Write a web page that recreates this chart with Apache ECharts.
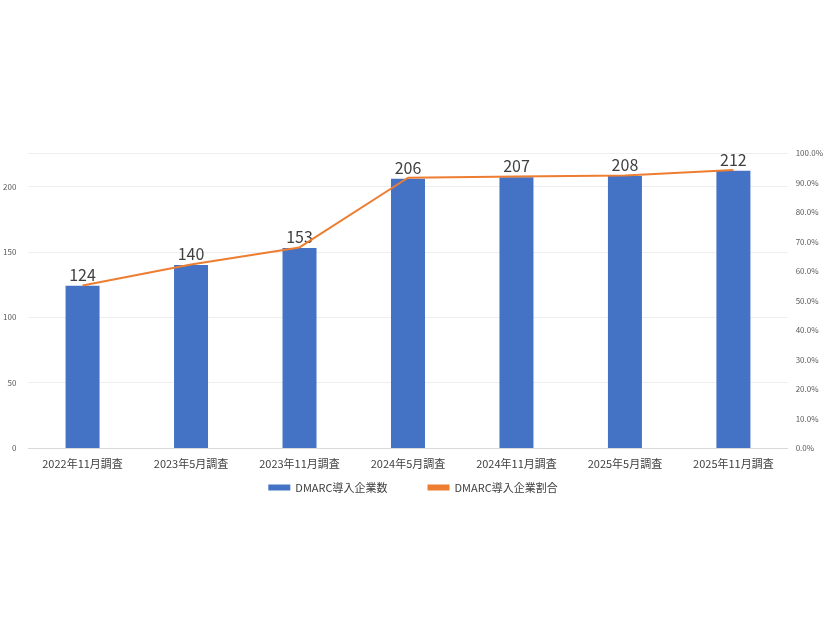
<!DOCTYPE html>
<html>
<head>
<meta charset="utf-8">
<script src="https://cdn.jsdelivr.net/npm/echarts@6/dist/echarts.min.js"></script>
<style>html,body{margin:0;padding:0;width:100%;height:100%;background:#fff}#main{width:826px;height:620px}</style>
</head>
<body>
<div id="main"></div>
<script>
var categories = ['2022年11月調査','2023年5月調査','2023年11月調査','2024年5月調査','2024年11月調査','2025年5月調査','2025年11月調査'];
var counts = [124, 140, 153, 206, 207, 208, 212];
var rates = [55.1, 62.2, 68.0, 91.6, 92.0, 92.4, 94.2];

var font = '"Noto Sans CJK JP", "Noto Sans", sans-serif';
var chart = echarts.init(document.getElementById('main'));
chart.setOption({
  textStyle: { fontFamily: font },
  grid: { left: 25, right: 38, top: 153, bottom: 172 },
  legend: {
    bottom: 122, itemGap: 40, itemWidth: 22, itemHeight: 6,
    textStyle: { color: '#404040', fontSize: 11 },
    data: [{ name: 'DMARC導入企業数', icon: 'rect' }, { name: 'DMARC導入企業割合', icon: 'rect', itemStyle: { color: '#ED7D31' } }]
  },
  xAxis: {
    type: 'category', data: categories,
    axisTick: { show: false },
    axisLine: { lineStyle: { color: '#d9d9d9' } },
    axisLabel: { color: '#404040', fontSize: 11, margin: 10 }
  },
  yAxis: [{
    type: 'value', min: 0, max: 225.6, interval: 50,
    axisLabel: { color: '#595959', fontSize: 8, showMaxLabel: false, margin: 12 },
    splitLine: { lineStyle: { color: '#eeeeee' } }
  }, {
    type: 'value', min: 0, max: 100, interval: 10,
    axisLabel: { color: '#595959', fontSize: 8, formatter: function (v) { return v.toFixed(1) + '%'; } },
    splitLine: { show: false }
  }],
  series: [{
    name: 'DMARC導入企業数', type: 'bar', data: counts, barWidth: 34,
    itemStyle: { color: '#4472C4' },
    label: { show: true, position: 'top', color: '#404040', fontSize: 16, distance: 3 }
  }, {
    name: 'DMARC導入企業割合', type: 'line', yAxisIndex: 1, data: rates,
    symbol: 'none', lineStyle: { color: '#ED7D31', width: 2 }, itemStyle: { color: '#ED7D31' },
    label: {
      show: true, position: 'right', color: '#404040', fontSize: 15, fontWeight: 'bold',
      formatter: function (p) { return p.value.toFixed(1) + '%'; }
    },
    labelLine: { show: true, lineStyle: { color: '#a6a6a6', width: 1 } },
    labelLayout: function (p) {
      if (p.dataIndex === 6) return { dx: 4, dy: -38 };
      if (p.dataIndex < 3) return { dx: 8, dy: 26 };
      return { dx: 8, dy: 45 };
    }
  }]
});
</script>
</body>
</html>
